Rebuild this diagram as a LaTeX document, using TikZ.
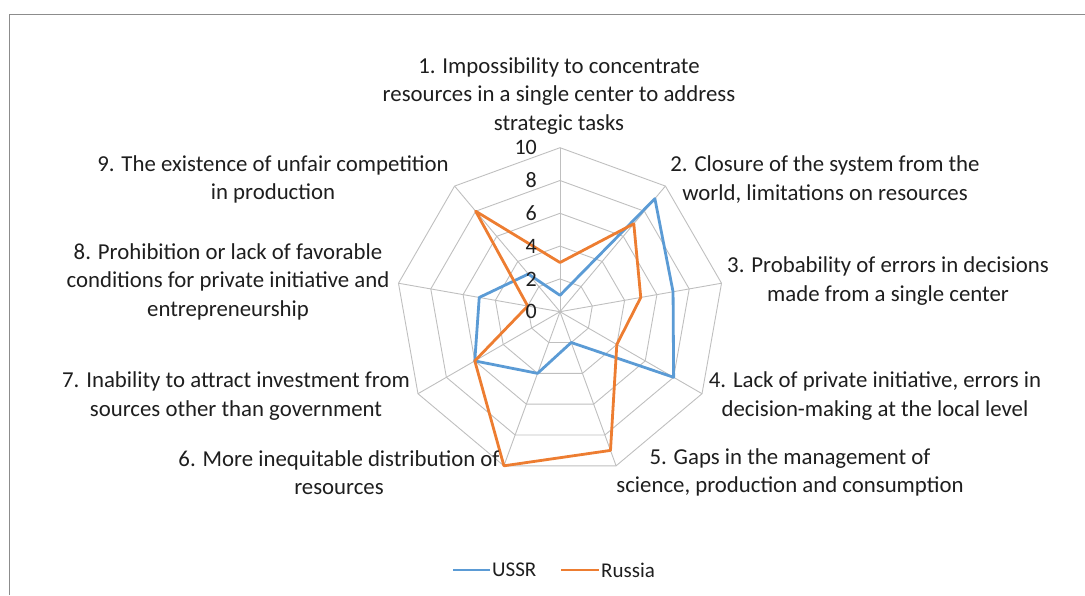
\documentclass[tikz,border=0pt]{standalone}
\usepackage{fontspec}
\setmainfont{Carlito}
\definecolor{ussr}{HTML}{5B9BD5}
\definecolor{rus}{HTML}{ED7D31}
\definecolor{gridc}{HTML}{BFBFBF}
\definecolor{txt}{HTML}{1E1E1E}
\definecolor{framec}{HTML}{8C8C8C}
\begin{document}
\begin{tikzpicture}[x=1pt,y=-1pt,
  lab/.style={align=center, font=\fontsize{22.8}{28.5}\selectfont, text=txt, inner sep=0pt},
  ticklab/.style={anchor=east, font=\fontsize{22}{24}\selectfont, text=txt, inner sep=0pt},
  leglab/.style={anchor=west, font=\fontsize{21}{24}\selectfont, text=txt, inner sep=0pt},
  gridline/.style={draw=gridc, line width=0.9pt},
  ussrline/.style={draw=ussr, line width=2.8pt, line join=round},
  rusline/.style={draw=rus, line width=2.8pt, line join=round},
  frameline/.style={draw=framec, line width=1.2pt}]
\useasboundingbox (0,0) rectangle (1085,595);
\draw[frameline] (9.5,595) -- (9.5,14.5) -- (1085,14.5);

\begin{scope}[shift={(560,311.7)}]
  \coordinate (o) at (0,0);
  \foreach \k in {1,...,9}{
    \coordinate (s\k) at ({40*\k-130}:164);
    \draw[gridline] (o) -- (s\k);
  }
  \foreach \v in {2,4,6,8,10}{
    \draw[gridline] ({-90}:{\v*16.4})
      \foreach \k in {2,...,9}{ -- ({40*\k-130}:{\v*16.4}) } -- cycle;
  }
  \foreach \k/\v in {1/1,2/9,3/7,4/8,5/2,6/4,7/6,8/5,9/3}{
    \coordinate (u\k) at ({40*\k-130}:{\v*16.4});
  }
  \foreach \k/\v in {1/3,2/7,3/5,4/4,5/9,6/10,7/6,8/2,9/8}{
    \coordinate (r\k) at ({40*\k-130}:{\v*16.4});
  }
  \draw[ussrline] (u1) -- (u2) -- (u3) -- (u4) -- (u5) -- (u6) -- (u7) -- (u8) -- (u9) -- cycle;
  \draw[rusline] (r1) -- (r2) -- (r3) -- (r4) -- (r5) -- (r6) -- (r7) -- (r8) -- (r9) -- cycle;
\end{scope}

\foreach \v in {0,2,4,6,8,10}{
  \node[ticklab] (t\v) at (537,{311.7-\v*16.4}) {\v};
}

\node[lab] (l1) at (559,96) {1. Impossibility to concentrate\\resources in a single center to address\\strategic tasks};
\node[lab] (l2) at (825,179.5) {2. Closure of the system from the\\world, limitations on resources};
\node[lab] (l3) at (888,281) {3. Probability of errors in decisions\\made from a single center};
\node[lab] (l4) at (875,396) {4. Lack of private initiative, errors in\\decision-making at the local level};
\node[lab] (l5) at (790,472.5) {5. Gaps in the management of\\science, production and consumption};
\node[lab] (l6) at (339,472.5) {6. More inequitable distribution of\\resources};
\node[lab] (l7) at (236,396) {7. Inability to attract investment from\\sources other than government};
\node[lab] (l8) at (228,281.5) {8. Prohibition or lack of favorable\\conditions for private initiative and\\entrepreneurship};
\node[lab] (l9) at (273,179.5) {9. The existence of unfair competition\\in production};

\coordinate (lu1) at (453,570);
\coordinate (lu2) at (490,570);
\draw[ussrline] (lu1) -- (lu2);
\node[leglab] (lu) at (492,570) {USSR};
\coordinate (lr1) at (561,570);
\coordinate (lr2) at (599,570);
\draw[rusline] (lr1) -- (lr2);
\node[leglab] (lr) at (601,570) {Russia};
\end{tikzpicture}
\end{document}
